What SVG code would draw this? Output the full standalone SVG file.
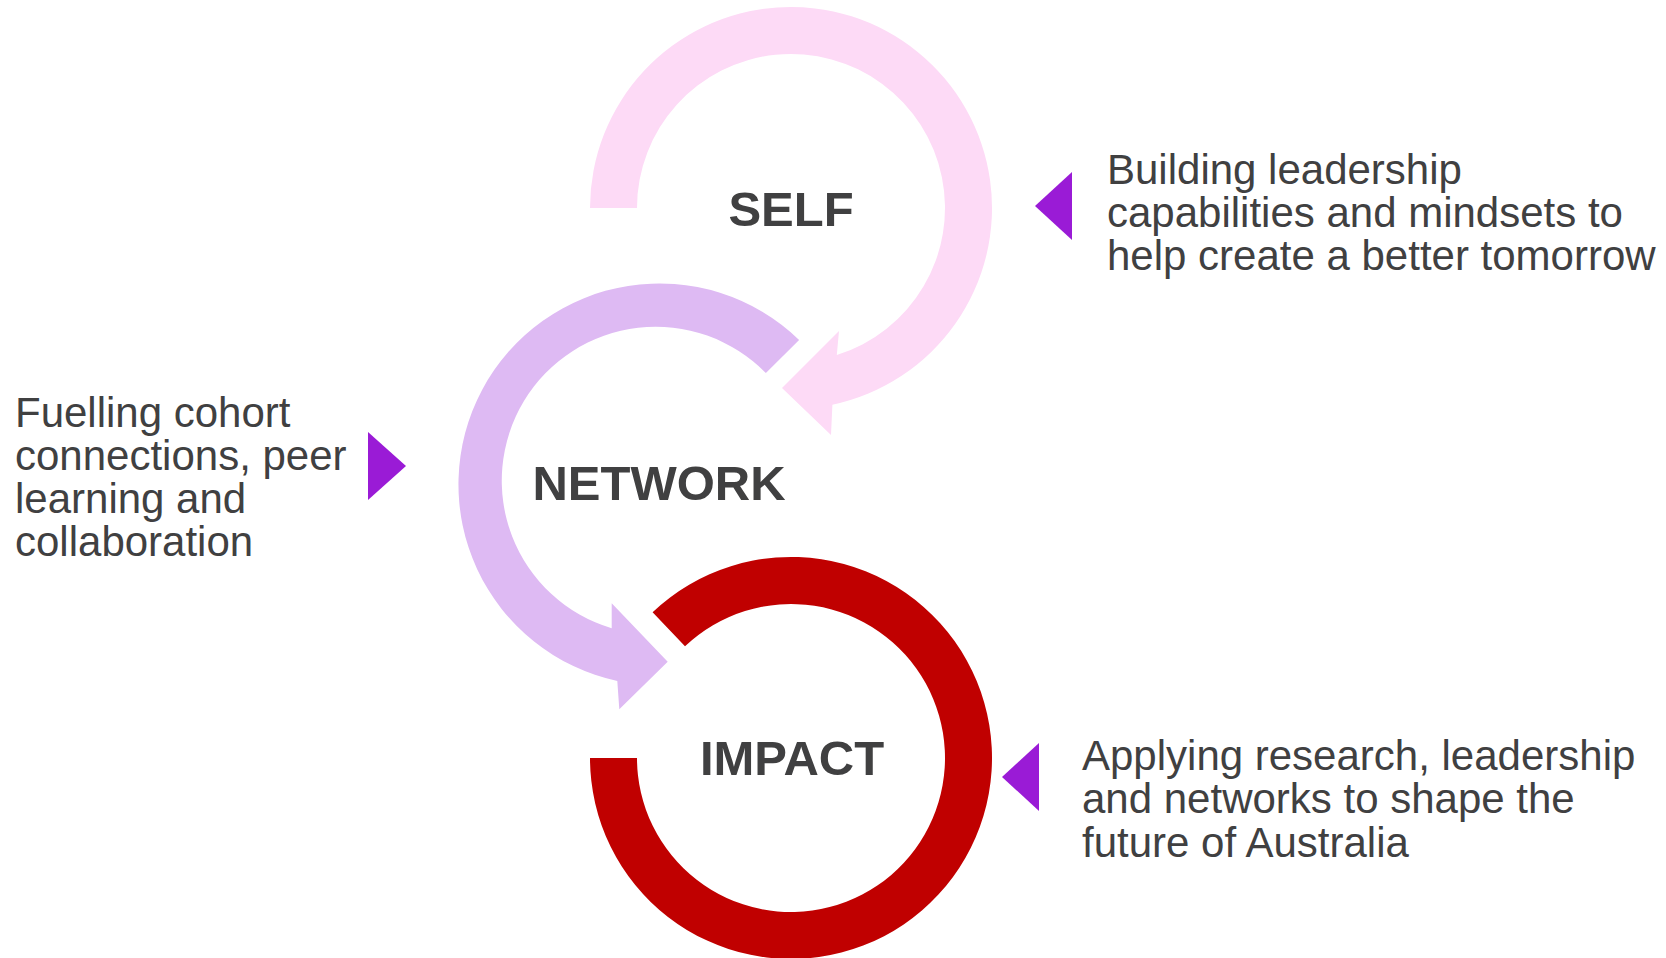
<svg xmlns="http://www.w3.org/2000/svg" width="1666" height="958" viewBox="0 0 1666 958">
<style>
.lbl{font-family:"Liberation Sans",Arial,sans-serif;font-weight:bold;font-size:49px;fill:#404041;text-anchor:middle}
.desc{font-family:"Liberation Sans",Arial,sans-serif;font-size:42px;fill:#404041}
.tri{fill:#9A1BD6}
</style>
<rect width="1666" height="958" fill="#ffffff"/>
<g id="connectors">
<path id="arrow-self" fill="#FDDAF6" d="M590,208 A201,201 0 1 1 832.4,404.7 L831,435 L782,388 L839,331 L836.8,355 A154,154 0 1 0 637,208 Z"/>
<path id="arrow-network" fill="#DEBAF3" d="M799.1,339.9 A201,201 0 1 0 617.3,681 L619.3,709.3 L667.7,661.7 L611.7,603.3 L611.7,628.3 A154,154 0 1 1 765.9,373.1 Z"/>
<path id="arrow-impact" fill="#C00000" d="M590,758 A201,201 0 1 0 652.6,612.2 L685,646.3 A154,154 0 1 1 637,758 Z"/>
</g>
<g id="node-self">
<text class="lbl" x="791" y="226">SELF</text>
</g>
<g id="node-network">
<text class="lbl" x="659" y="500">NETWORK</text>
</g>
<g id="node-impact">
<text class="lbl" x="792" y="775">IMPACT</text>
</g>
<g id="desc-self">
<polygon class="tri" points="1035,206 1072,172 1072,240"/>
<text class="desc" x="1107" y="184">Building leadership</text>
<text class="desc" x="1107" y="227">capabilities and mindsets to</text>
<text class="desc" x="1107" y="270">help create a better tomorrow</text>
</g>
<g id="desc-network">
<polygon class="tri" points="368,432 406,466 368,500"/>
<text class="desc" x="15" y="427">Fuelling cohort</text>
<text class="desc" x="15" y="470">connections, peer</text>
<text class="desc" x="15" y="513">learning and</text>
<text class="desc" x="15" y="556">collaboration</text>
</g>
<g id="desc-impact">
<polygon class="tri" points="1002,777 1039,743 1039,811"/>
<text class="desc" x="1082" y="770">Applying research, leadership</text>
<text class="desc" x="1082" y="813">and networks to shape the</text>
<text class="desc" x="1082" y="857">future of Australia</text>
</g>
</svg>
